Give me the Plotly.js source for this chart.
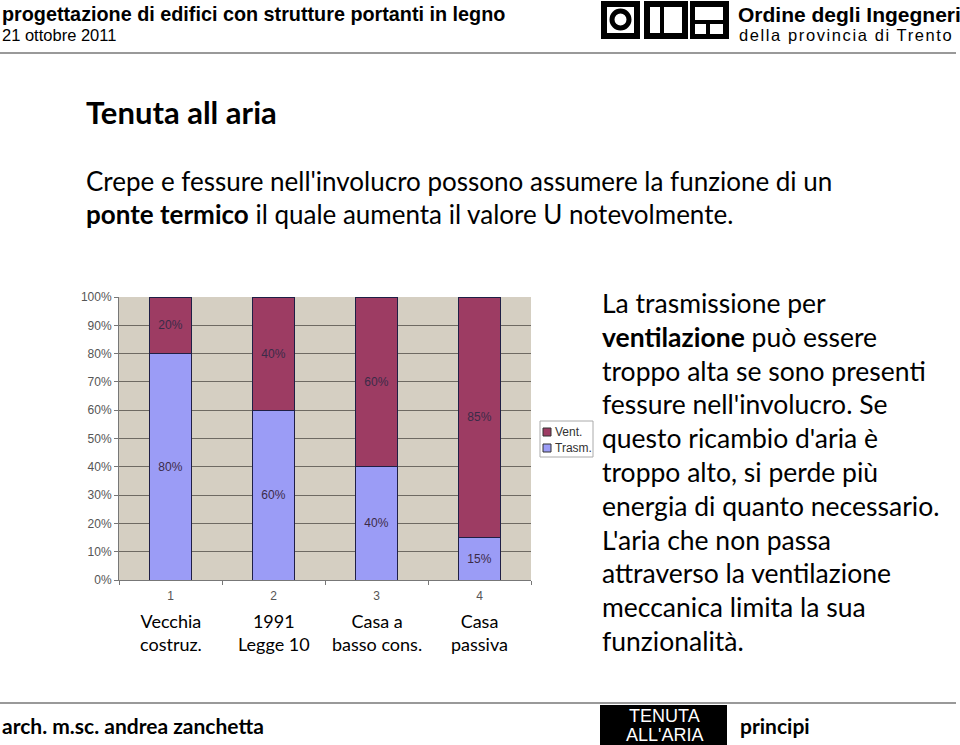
<!DOCTYPE html>
<html>
<head>
<meta charset="utf-8">
<script src="https://cdn.plot.ly/plotly-3.0.1.min.js"></script>
<style>
  html, body { margin: 0; padding: 0; background: #fff; }
  #chart { width: 960px; height: 745px; }
</style>
</head>
<body>
<div id="chart"></div>
<script>
// chart data
const cats = ["1", "2", "3", "4"];
const catNames = ["Vecchia<br>costruz.", "1991<br>Legge 10", "Casa a<br>basso cons.", "Casa<br>passiva"];
const trasm = [0.80, 0.60, 0.40, 0.15];
const vent = [0.20, 0.40, 0.60, 0.85];
const seriesNames = ["Vent.", "Trasm."];

const ventColor = "#9d3c63";
const trasmColor = "#9b9cf6";

// slide text
const sideLines = [
  "La trasmissione per",
  "<b>ventilazione</b> può essere",
  "troppo alta se sono presenti",
  "fessure nell'involucro. Se",
  "questo ricambio d'aria è",
  "troppo alto, si perde più",
  "energia di quanto necessario.",
  "L'aria che non passa",
  "attraverso la ventilazione",
  "meccanica limita la sua",
  "funzionalità."
];

const W = 960, H = 745;
const L = 119, T = 297, R = 531, B = 580;
const body = "Lato, 'Open Sans', sans-serif";
const narrow = "'Liberation Sans Narrow', 'Arial Narrow', 'Liberation Sans', sans-serif";
const arial = "'Liberation Sans', Arial, sans-serif";

// pixel -> paper coords
function px(x) { return (x - L) / (R - L); }
function py(y) { return (B - y) / (B - T); }

function txt(x, y, text, size, opts) {
  return Object.assign({
    xref: "paper", yref: "paper", x: px(x), y: py(y),
    xanchor: "left", yanchor: "middle", showarrow: false,
    text: text, font: { family: body, size: size, color: "#000" }
  }, opts || {});
}

function rect(x0, y0, x1, y1, color, line) {
  return {
    type: "rect", xref: "paper", yref: "paper",
    x0: px(x0), x1: px(x1), y0: py(y0), y1: py(y1),
    fillcolor: color, line: line || { width: 0 }, layer: "above"
  };
}

const annotations = [
  txt(0, 14, "<b>progettazione di edifici con strutture portanti in legno</b>", 19.8, { font: { family: narrow, size: 19.8, color: "#000" } }),
  txt(0, 35, "21 ottobre 2011", 16.5, { font: { family: narrow, size: 16.5, color: "#000" } }),
  txt(736, 14, "<b>Ordine degli Ingegneri</b>", 21, { font: { family: narrow, size: 21, color: "#000" } }),
  txt(846, 35, "della provincia di Trento", 16.5, { xanchor: "center", font: { family: arial, size: 16.5, color: "#000" } }),
  txt(84, 112, "<b>Tenuta all aria</b>", 31),
  txt(84, 181, "Crepe e fessure nell'involucro possono assumere la funzione di un", 26),
  txt(84, 214, "<b>ponte termico</b> il quale aumenta il valore U notevolmente.", 26),
  txt(0, 725, "<b>arch. m.sc. andrea zanchetta</b>", 21),
  txt(738, 725, "<b>principi</b>", 21),
  txt(664, 716, "TENUTA", 18, { xanchor: "center", font: { family: narrow, size: 18, color: "#fff" } }),
  txt(664, 735, "ALL'ARIA", 18, { xanchor: "center", font: { family: narrow, size: 18, color: "#fff" } })
];

sideLines.forEach((line, i) => {
  annotations.push(txt(600, 303 + i * 33.8, line, 26.5));
});

catNames.forEach((name, i) => {
  annotations.push({
    xref: "x", yref: "paper", x: i, y: py(608), yanchor: "top",
    showarrow: false, text: name,
    font: { family: body, size: 18, color: "#000" }
  });
});

// legend (drawn by hand to keep it as compact as the original)
const legendColors = [ventColor, trasmColor];
seriesNames.forEach((name, i) => {
  annotations.push(txt(553, 432 + i * 16, name, 12, { font: { family: arial, size: 12, color: "#333" } }));
});

const shapes = [
  { type: "line", xref: "paper", yref: "paper", x0: px(0), x1: px(956), y0: py(53), y1: py(53), line: { color: "#999", width: 2 } },
  { type: "line", xref: "paper", yref: "paper", x0: px(0), x1: px(956), y0: py(703), y1: py(703), line: { color: "#999", width: 2 } },
  rect(600, 705, 727, 745, "#000"),
  // logo
  rect(601, 1, 640, 39, "#000"),
  rect(607, 7, 634, 33, "#fff"),
  { type: "circle", xref: "paper", yref: "paper", x0: px(612), x1: px(629), y0: py(11), y1: py(28), fillcolor: "#fff", line: { color: "#000", width: 5 }, layer: "above" },
  rect(644, 1, 688, 39, "#000"),
  rect(650, 7, 660, 33, "#fff"),
  rect(664, 7, 682, 33, "#fff"),
  rect(690, 1, 729, 39, "#000"),
  rect(695, 7, 723, 20, "#fff"),
  rect(695, 24, 706, 34, "#fff"),
  rect(710, 24, 723, 34, "#fff"),
  // legend box
  rect(540, 421, 593, 457, "#fff", { color: "#aaa", width: 1 })
];
legendColors.forEach((c, i) => {
  shapes.push(rect(543, 428 + i * 16, 551, 436 + i * 16, c, { color: "#333", width: 1 }));
});

const labelFont = { family: arial, size: 12, color: "#3b2b48" };

Plotly.newPlot(
  "chart",
  [
    {
      type: "bar",
      name: "Trasm.",
      x: cats,
      y: trasm,
      text: trasm.map(v => Math.round(v * 100) + "%"),
      textposition: "inside",
      insidetextanchor: "middle",
      constraintext: "none",
      textfont: labelFont,
      marker: { color: trasmColor, line: { color: "#1f1f45", width: 1 } }
    },
    {
      type: "bar",
      name: "Vent.",
      x: cats,
      y: vent,
      text: vent.map(v => Math.round(v * 100) + "%"),
      textposition: "inside",
      insidetextanchor: "middle",
      constraintext: "none",
      textfont: labelFont,
      marker: { color: ventColor, line: { color: "#1f1f45", width: 1 } }
    }
  ],
  {
    width: W,
    height: H,
    barmode: "stack",
    bargap: 0.6,
    showlegend: false,
    paper_bgcolor: "#fff",
    plot_bgcolor: "#d5cfc2",
    margin: { l: L, r: W - R, t: T, b: H - B, pad: 0 },
    font: { family: arial, size: 12, color: "#555" },
    xaxis: {
      type: "category",
      range: [-0.5, 3.5],
      autorange: false,
      showgrid: false,
      showline: true,
      linecolor: "#777",
      ticks: "outside",
      tickson: "boundaries",
      ticklen: 4,
      tickcolor: "#777",
      ticklabelstandoff: 5,
      tickfont: { size: 12, color: "#555" }
    },
    yaxis: {
      range: [0, 1],
      dtick: 0.1,
      tickformat: ".0%",
      showgrid: true,
      gridcolor: "#6e6a62",
      gridwidth: 1,
      showline: true,
      linecolor: "#777",
      ticks: "outside",
      ticklen: 4,
      tickcolor: "#777",
      tickfont: { size: 12, color: "#555" },
      zeroline: false
    },
    annotations: annotations,
    shapes: shapes
  },
  { displayModeBar: false }
).then(gd => {
  // the subtitle of the logo is letter-spaced in the original
  gd.querySelectorAll("g.annotation text").forEach(t => {
    if (t.textContent === "della provincia di Trento") t.style.letterSpacing = "1.6px";
  });
});
</script>
</body>
</html>
